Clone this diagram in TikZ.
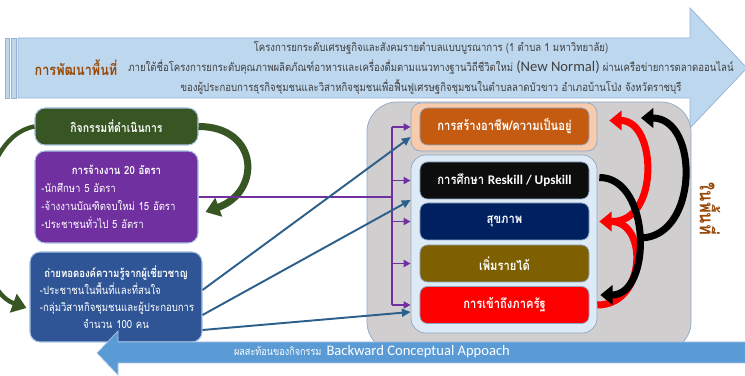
\documentclass[tikz,border=0pt]{standalone}
\usepackage{fontspec}
\setmainfont[Script=Thai, FakeStretch=0.85]{Loma}
\newfontfamily\latin{Carlito}
\usepackage{tikz}
\usetikzlibrary{positioning,calc,arrows.meta}

\definecolor{topblue}{HTML}{BDD7EE}
\definecolor{topedge}{HTML}{95B3D7}
\definecolor{txtgray}{HTML}{404040}
\definecolor{areabrown}{HTML}{984807}
\definecolor{panelgray}{HTML}{D0CECE}
\definecolor{paneledge}{HTML}{8EA9C8}
\definecolor{peach}{HTML}{F8CBAD}
\definecolor{jobor}{HTML}{C55A11}
\definecolor{paleblue}{HTML}{DEEBF7}
\definecolor{edublack}{HTML}{0D0D0D}
\definecolor{navy}{HTML}{002060}
\definecolor{olive}{HTML}{7F6000}
\definecolor{govred}{HTML}{FF0000}
\definecolor{actgreen}{HTML}{375623}
\definecolor{hirepurple}{HTML}{7030A0}
\definecolor{knowblue}{HTML}{2F5597}
\definecolor{lineblue}{HTML}{2D5F8B}
\definecolor{bottomblue}{HTML}{5B9BD5}
\definecolor{boxedge}{HTML}{A9C4E4}

\tikzset{
  act/.style={draw=boxedge, line width=0.6pt, rounded corners=2mm, text=white,
    align=left, font=\fontsize{6.4}{10.2}\selectfont},
  outcome/.style={draw=paneledge, line width=0.4pt, rounded corners=1.5mm,
    minimum width=33.8mm, minimum height=7.4mm, text=white,
    font=\bfseries\fontsize{7.5}{9}\selectfont},
  purplearrow/.style={draw=hirepurple, line width=1pt, -{Triangle[length=4pt,width=4pt]}},
  bluearrow/.style={draw=lineblue, line width=1.1pt, -{Triangle[length=5pt,width=4.5pt]}},
  greencurve/.style={draw=actgreen, -{Triangle[length=8pt,width=11pt]}},
  redcurve/.style={draw=govred, line width=4pt, -{Triangle[length=7pt,width=11pt]}},
  blackcurve/.style={draw=black, line width=4pt, -{Triangle[length=7pt,width=11pt]}}
}

\begin{document}
\begin{tikzpicture}[x=0.2mm,y=-0.2mm]
  \useasboundingbox (0,0) rectangle (745,376);

  % Top arrow
  \draw[draw=topedge, fill=topblue] (5,38) rectangle (9,98);
  \draw[draw=topedge, fill=topblue] (11,38) rectangle (16,98);
  \draw[draw=topedge, fill=topblue] (18,38) -- (690,38) -- (690,8) -- (747,68)
    -- (690,128) -- (690,98) -- (18,98) -- cycle;
  \node[text=areabrown, font=\bfseries\fontsize{8.5}{10}\selectfont] (area) at (76,68) {การพัฒนาพื้นที่};
  \node[text=txtgray, align=center, font=\fontsize{6.4}{11.2}\selectfont] (proj) at (431,68)
    {โครงการยกระดับเศรษฐกิจและสังคมรายตำบลแบบบูรณาการ (1 ตำบล 1 มหาวิทยาลัย)\\
     ภายใต้ชื่อโครงการยกระดับคุณภาพผลิตภัณฑ์อาหารและเครื่องดื่มตามแนวทางฐานวิถีชีวิตใหม่ {\latin\fontsize{8.3}{10}\selectfont(New Normal)} ผ่านเครือข่ายการตลาดออนไลน์\\
     ของผู้ประกอบการธุรกิจชุมชนและวิสาหกิจชุมชนเพื่อฟื้นฟูเศรษฐกิจชุมชนในตำบลลาดบัวขาว อำเภอบ้านโป่ง จังหวัดราชบุรี};

  % Gray panel with outcomes
  \draw[draw=paneledge, fill=panelgray, rounded corners=6mm] (367,102) rectangle (691,352);
  \node[draw=paneledge, fill=peach, rounded corners=2mm, minimum width=37.2mm,
    minimum height=9.6mm] (peach) at (504,127) {};
  \node[outcome, fill=jobor] (job) at (504.5,126.5) {การสร้างอาชีพ/ความเป็นอยู่};
  \node[draw=paneledge, fill=paleblue, rounded corners=3mm, minimum width=37.2mm,
    minimum height=35.6mm] (pale) at (504,244) {};
  \node[outcome, fill=edublack] (edu) at (504.5,180.5) {การศึกษา {\latin Reskill / Upskill}};
  \node[outcome, fill=navy] (health) at (504.5,221.5) {สุขภาพ};
  \node[outcome, fill=olive] (income) at (504.5,263.5) {เพิ่มรายได้};
  \node[outcome, fill=govred] (gov) at (504.5,305) {การเข้าถึงภาครัฐ};
  \node[rotate=-90, text=areabrown, font=\bfseries\fontsize{11}{12}\selectfont] (local) at (710,209) {ในพื้นที่};

  % Activities
  \node[act, fill=actgreen, minimum width=32.6mm, minimum height=7.4mm, align=center,
    font=\bfseries\fontsize{7}{9}\selectfont] (acts) at (116.5,126.5) {กิจกรรมที่ดำเนินการ};
  \node[act, fill=hirepurple, text width=30mm, inner xsep=1.3mm, minimum height=18.4mm] (hire) at (116.5,197)
    {\makebox[30mm]{\bfseries การจ้างงาน 20 อัตรา}\\
     \mbox{-นักศึกษา 5 อัตรา}\\
     \mbox{-จ้างงานบัณฑิตจบใหม่ 15 อัตรา}\\
     \mbox{-ประชาชนทั่วไป 5 อัตรา}};
  \node[act, fill=knowblue, text width=30.4mm, inner xsep=2mm, minimum height=18mm,
    font=\fontsize{6.4}{9.6}\selectfont] (know) at (116,297)
    {\makebox[30.4mm]{\bfseries ถ่ายทอดองค์ความรู้จากผู้เชี่ยวชาญ}\\
     \mbox{-ประชาชนในพื้นที่และที่สนใจ}\\
     \mbox{-กลุ่มวิสาหกิจชุมชนและผู้ประกอบการ}\\
     \makebox[30.4mm]{จำนวน 100 คน}};

  % Green curved arrows
  \draw[greencurve, line width=4pt] (acts.east) to[out=0,in=20,looseness=1.8] ($(hire.east)+(7,15)$);
  \draw[greencurve, line width=2.5pt] (acts.west) to[out=190,in=160,looseness=0.9] ($(know.west)+(-3,11)$);

  % Purple connector
  \coordinate (bus) at (392,197);
  \draw[draw=hirepurple, line width=1pt] (hire.east) -- (hire.east -| bus);
  \draw[draw=hirepurple, line width=1pt] (bus |- peach) -- (bus |- gov);
  \draw[purplearrow] (bus |- peach) -- (peach.west);
  \foreach \t in {edu,health,income,gov}
    \draw[purplearrow] (bus |- \t) -- (pale.west |- \t);

  % Blue connectors
  \draw[bluearrow] ($(know.east)+(0,-7)$) -- ($(peach.west)+(0,10)$);
  \draw[bluearrow] ($(know.east)+(0,18)$) -- ($(pale.west)+(0,-44)$);
  \draw[bluearrow] ($(know.east)+(0,33)$) -- ($(pale.west)+(0,68)$);

  % Curved arrows between outcomes
  \coordinate (loopfoot) at (640,238);
  \coordinate (looptop) at (641,118);
  \draw[blackcurve] (loopfoot) to[out=0,in=0,looseness=1.25] (looptop);
  \draw[redcurve] ($(health.east)+(23,0)$) to[out=0,in=0,looseness=1.2] ($(job.east)+(20,-6)$);
  \draw[redcurve] ($(gov.east)+(8,0)$) to[out=0,in=0,looseness=1.5] ($(health.east)+(10,0)$);
  \draw[blackcurve] ($(edu.east)+(10,-3)$) to[out=0,in=0,looseness=1.13] ($(gov.east)+(11,-10)$);

  % Bottom arrow
  \draw[draw=boxedge, fill=bottomblue] (747,342) -- (118,342) -- (118,331) -- (97,353)
    -- (118,375) -- (118,363) -- (747,363) -- cycle;
  \node[text=white] (reflect) at (372,352)
    {{\fontsize{6.1}{8}\selectfont ผลสะท้อนของกิจกรรม} {\latin\fontsize{8.3}{10}\selectfont Backward Conceptual Appoach}};
\end{tikzpicture}
\end{document}
